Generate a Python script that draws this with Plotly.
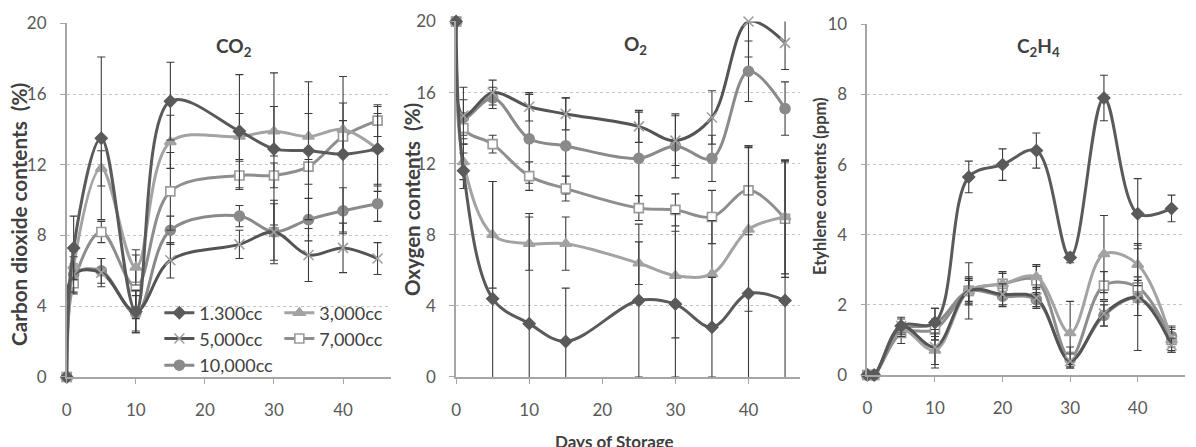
import plotly.graph_objects as go

W, H = 1196, 447

series_names = ["1.300cc", "3,000cc", "5,000cc", "7,000cc", "10,000cc"]

# ---- CO2 (%) ----
co2_days = [0, 1, 5, 10, 15, 25, 30, 35, 40, 45]
co2_vals = {
    "1.300cc":  [0, 7.3, 13.5, 3.7, 15.6, 13.9, 12.9, 12.8, 12.6, 12.9],
    "3,000cc":  [0, 6.3, 11.8, 6.2, 13.3, 13.6, 13.9, 13.6, 14.0, 12.9],
    "5,000cc":  [0, 5.8, 5.9, 3.7, 6.6, 7.5, 8.2, 6.9, 7.3, 6.7],
    "7,000cc":  [0, 5.3, 8.2, 5.1, 10.5, 11.4, 11.4, 11.9, 13.6, 14.5],
    "10,000cc": [0, 5.8, 6.0, 3.6, 8.3, 9.1, 8.2, 8.9, 9.4, 9.8],
}
co2_err = {
    "1.300cc":  [0, 1.8, 4.6, 1.2, 2.2, 3.2, 4.3, 3.9, 4.4, 2.4],
    "3,000cc":  [0, 0.8, 1.0, 1.0, 1.5, 1.3, 1.4, 1.3, 1.5, 2.0],
    "5,000cc":  [0, 1.0, 0.8, 1.2, 1.0, 0.8, 1.6, 1.5, 1.4, 0.9],
    "7,000cc":  [0, 0.6, 0.6, 1.8, 2.2, 0.8, 0.7, 1.0, 0.9, 0.9],
    "10,000cc": [0, 0.6, 0.7, 1.0, 0.8, 0.6, 1.8, 1.2, 1.3, 1.0],
}

# ---- O2 (%) ----
o2_days = [0, 1, 5, 10, 15, 25, 30, 35, 40, 45]
o2_vals = {
    "1.300cc":  [20, 11.6, 4.4, 3.0, 2.0, 4.3, 4.1, 2.8, 4.7, 4.3],
    "3,000cc":  [20, 12.1, 8.0, 7.5, 7.5, 6.4, 5.7, 5.8, 8.3, 9.0],
    "5,000cc":  [20, 14.7, 16.0, 15.2, 14.8, 14.1, 13.3, 14.6, 20.0, 18.8],
    "7,000cc":  [20, 14.0, 13.1, 11.3, 10.6, 9.5, 9.4, 9.0, 10.5, 8.9],
    "10,000cc": [20, 14.6, 15.7, 13.4, 13.0, 12.3, 13.0, 12.3, 17.2, 15.1],
}
o2_err = {
    "1.300cc":  [0, 1.0, 6.6, 6.2, 3.0, 4.3, 4.1, 2.8, 8.3, 7.8],
    "3,000cc":  [0, 1.0, 3.0, 1.5, 1.5, 1.2, 3.5, 3.0, 4.6, 3.2],
    "5,000cc":  [0, 1.6, 0.7, 0.8, 0.9, 0.9, 1.4, 1.5, 2.0, 1.5],
    "7,000cc":  [0, 0.6, 0.5, 0.8, 0.7, 0.7, 0.9, 1.5, 2.5, 3.3],
    "10,000cc": [0, 1.0, 0.6, 2.5, 2.7, 2.6, 1.8, 1.3, 1.7, 1.5],
}

# ---- C2H4 (ppm) ----
c2h4_days = [0, 1, 5, 10, 15, 20, 25, 30, 35, 40, 45]
c2h4_vals = {
    "1.300cc":  [0, 0, 1.4, 1.5, 5.65, 6.0, 6.4, 3.35, 7.9, 4.6, 4.75],
    "3,000cc":  [0, 0, 1.3, 0.7, 2.4, 2.6, 2.8, 1.2, 3.45, 3.15, 1.0],
    "5,000cc":  [0, 0, 1.4, 0.8, 2.4, 2.3, 2.2, 0.4, 1.75, 2.2, 0.85],
    "7,000cc":  [0, 0, 1.2, 1.3, 2.4, 2.6, 2.7, 0.5, 2.55, 2.5, 1.0],
    "10,000cc": [0, 0, 1.3, 1.45, 2.4, 2.25, 2.15, 0.45, 1.7, 2.2, 1.1],
}
c2h4_err = {
    "1.300cc":  [0, 0, 0.2, 0.4, 0.45, 0.45, 0.5, 0.15, 0.65, 1.0, 0.38],
    "3,000cc":  [0, 0, 0.2, 0.5, 0.8, 0.35, 0.35, 0.9, 1.1, 0.6, 0.35],
    "5,000cc":  [0, 0, 0.25, 0.5, 0.4, 0.3, 0.3, 0.2, 0.35, 1.5, 0.2],
    "7,000cc":  [0, 0, 0.3, 0.3, 0.3, 0.3, 0.4, 0.3, 0.4, 0.3, 0.3],
    "10,000cc": [0, 0, 0.2, 0.45, 0.35, 0.3, 0.2, 0.2, 0.3, 0.5, 0.3],
}

styles = {
    "1.300cc":  dict(color="#5a5a5a", symbol="diamond", mcolor="#5a5a5a", mline="#5a5a5a", size=9),
    "3,000cc":  dict(color="#a3a3a3", symbol="triangle-up", mcolor="#a3a3a3", mline="#a3a3a3", size=10),
    "5,000cc":  dict(color="#545454", symbol="x-thin", mcolor="#a0a0a0", mline="#a0a0a0", size=10),
    "7,000cc":  dict(color="#8e8e8e", symbol="square", mcolor="#ffffff", mline="#9a9a9a", size=9),
    "10,000cc": dict(color="#8a8a8a", symbol="circle", mcolor="#8a8a8a", mline="#8a8a8a", size=10),
}
legend_of = {"1.300cc": "legend", "3,000cc": "legend", "5,000cc": "legend2",
             "7,000cc": "legend2", "10,000cc": "legend3"}

fig = go.Figure()

panels = [
    (co2_days, co2_vals, co2_err, "x", "y"),
    (o2_days, o2_vals, o2_err, "x2", "y2"),
    (c2h4_days, c2h4_vals, c2h4_err, "x3", "y3"),
]

draw_order = ["10,000cc", "7,000cc", "3,000cc", "5,000cc", "1.300cc"]
for pi, (days, vals, errs, xa, ya) in enumerate(panels):
    for name in draw_order:
        st = styles[name]
        fig.add_trace(go.Scatter(
            x=days, y=vals[name], name=name, xaxis=xa, yaxis=ya,
            mode="lines+markers", cliponaxis=False,
            line=dict(color=st["color"], width=3, shape="spline", smoothing=1.0),
            marker=dict(symbol=st["symbol"], size=st["size"], color=st["mcolor"],
                        line=dict(color=st["mline"], width=1.6)),
            error_y=dict(type="data", array=errs[name], visible=True,
                         color="#3c3c3c", thickness=1.1, width=4),
            showlegend=(pi == 0), legend=legend_of[name],
            legendrank=series_names.index(name),
        ))

def dom_x(a, b):
    return [a / W, b / W]

def dom_y(top, bottom):
    return [1 - bottom / H, 1 - top / H]

FAM = "Lato, Open Sans, sans-serif"
tickfont = dict(family=FAM, size=17, color="#595959")
common_x = dict(range=[0, 47], tickvals=[0, 10, 20, 30, 40], showgrid=False,
                showline=True, linecolor="#a6a6a6", linewidth=1.5, ticks="outside",
                ticklen=5, tickcolor="#a6a6a6", tickfont=tickfont, zeroline=False,
                ticklabelstandoff=12)
common_y = dict(showgrid=True, gridcolor="#c4c4c4", griddash="dot", gridwidth=1,
                showline=True, linecolor="#a6a6a6", linewidth=1.5, ticks="outside",
                ticklen=5, tickcolor="#a6a6a6", tickfont=tickfont, zeroline=False,
                ticklabelstandoff=10)

fig.update_layout(
    width=W, height=H, margin=dict(l=0, r=0, t=0, b=0),
    paper_bgcolor="white", plot_bgcolor="white",
    font=dict(family=FAM, color="#404040"),
    xaxis=dict(domain=dom_x(62, 388), anchor="y", **common_x),
    yaxis=dict(domain=dom_y(13, 384), anchor="x", range=[0, 20], tickvals=[0, 4, 8, 12, 16, 20], **common_y),
    xaxis2=dict(domain=dom_x(453, 798), anchor="y2", **common_x),
    yaxis2=dict(domain=dom_y(11, 384), anchor="x2", range=[0, 20], tickvals=[0, 4, 8, 12, 16, 20], **common_y),
    xaxis3=dict(domain=dom_x(866, 1185), anchor="y3", **common_x),
    yaxis3=dict(domain=dom_y(14, 382), anchor="x3", range=[0, 10], tickvals=[0, 2, 4, 6, 8, 10], **common_y),
)

legfont = dict(family=FAM, size=18, color="#404040")
for key, ypix in [("legend", 317), ("legend2", 344), ("legend3", 372)]:
    fig.update_layout(**{key: dict(
        orientation="h", x=155 / W, xanchor="left", y=1 - ypix / H, yanchor="middle",
        bgcolor="rgba(0,0,0,0)", borderwidth=0, font=legfont,
        entrywidth=75, entrywidthmode="pixels", itemwidth=30, tracegroupgap=0,
    )})

ann_font = dict(family=FAM, size=20, color="#404040")
annotations = [
    dict(text="<b>CO<sub>2</sub></b>", x=230 / W, y=1 - 38 / H),
    dict(text="<b>O<sub>2</sub></b>", x=633 / W, y=1 - 36 / H),
    dict(text="<b>C<sub>2</sub>H<sub>4</sub></b>", x=1038 / W, y=1 - 38 / H),
]
for a in annotations:
    fig.add_annotation(xref="paper", yref="paper", showarrow=False,
                       xanchor="center", yanchor="middle", font=dict(ann_font, size=19), **a)

ytitles = [
    ("<b>Carbon dioxide contents  (%)</b>", 14, 213, 20.7),
    ("<b>Oxygen contents  (%)</b>", 408, 198, 20.5),
    ("<b>Etyhlene contents (ppm)</b>", 819, 184, 16.5),
]
for txt, xp, yp, fs in ytitles:
    fig.add_annotation(xref="paper", yref="paper", showarrow=False, text=txt,
                       textangle=-90, x=xp / W, y=1 - yp / H, xanchor="center",
                       yanchor="middle", font=dict(ann_font, size=fs))

fig.add_annotation(xref="paper", yref="paper", showarrow=False,
                   text="<b>Days of Storage</b>", x=612 / W, y=1 - 439 / H,
                   xanchor="center", yanchor="top", font=dict(ann_font, size=17))

fig.write_html("out.html")
